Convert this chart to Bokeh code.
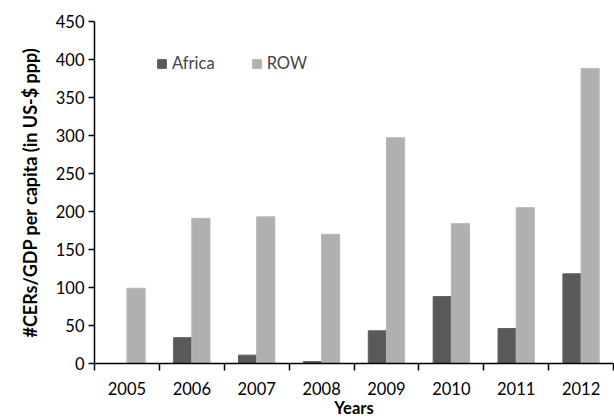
import numpy as np
from bokeh.plotting import figure
from bokeh.models import ColumnDataSource, FixedTicker, Range1d, Legend, LegendItem
from bokeh.embed import file_html
from bokeh.resources import INLINE

years = ["2005", "2006", "2007", "2008", "2009", "2010", "2011", "2012"]
africa = [0, 34, 11, 2.5, 43, 88, 46, 118]
row = [99, 191, 193, 170, 297, 184, 205, 388]
y_ticks = [0, 50, 100, 150, 200, 250, 300, 350, 400, 450]

idx = np.arange(len(years))
bar_w = 0.28
src = ColumnDataSource(dict(
    xa=idx + 0.5 - bar_w / 2,
    xr=idx + 0.5 + bar_w / 2,
    africa=africa,
    row=row,
))

p = figure(width=614, height=420, output_backend="svg", toolbar_location=None,
           x_range=Range1d(0, len(years)), y_range=Range1d(0, 450),
           min_border_left=94, min_border_top=21, min_border_right=1, min_border_bottom=57)
p.outline_line_color = None
p.xgrid.visible = False
p.ygrid.visible = False

ra = p.vbar(x="xa", top="africa", width=bar_w, source=src, fill_color="#595959", line_color="#5e5e5e")
rr = p.vbar(x="xr", top="row", width=bar_w, source=src, fill_color="#b0b0b0", line_color="#b6b6b6")

font = "Lato"
# x axis
p.xaxis.ticker = FixedTicker(ticks=list(idx + 0.5), minor_ticks=list(range(len(years) + 1)))
p.xaxis.major_label_overrides = {float(i + 0.5): y for i, y in zip(idx, years)}
p.xaxis.major_tick_out = 0
p.xaxis.major_tick_in = 0
p.xaxis.minor_tick_out = 7
p.xaxis.minor_tick_in = 0
p.xaxis.minor_tick_line_width = 1.5
p.xaxis.minor_tick_line_color = "black"
p.xaxis.axis_line_width = 1.5
p.xaxis.axis_line_color = "black"
p.xaxis.major_label_standoff = 11
p.xaxis.major_label_text_font = font
p.xaxis.major_label_text_font_size = "16.5px"
p.xaxis.major_label_text_color = "black"
p.xaxis.axis_label = "Years"
p.xaxis.axis_label_text_font = font
p.xaxis.axis_label_text_font_style = "bold"
p.xaxis.axis_label_text_font_size = "16.5px"
p.xaxis.axis_label_standoff = 0
p.xaxis.axis_label_text_color = "black"

# y axis
p.yaxis.ticker = FixedTicker(ticks=y_ticks, minor_ticks=[])
p.yaxis.major_tick_out = 6
p.yaxis.major_tick_in = 0
p.yaxis.major_tick_line_width = 1.5
p.yaxis.axis_line_width = 1.5
p.yaxis.axis_line_color = "black"
p.yaxis.major_label_standoff = 4
p.yaxis.major_label_text_font = font
p.yaxis.major_label_text_font_size = "16.5px"
p.yaxis.major_label_text_color = "black"
p.yaxis.axis_label = "#CERs/GDP per capita (in US-$ ppp)"
p.yaxis.axis_label_text_font = font
p.yaxis.axis_label_text_font_style = "bold"
p.yaxis.axis_label_text_font_size = "18px"
p.yaxis.axis_label_standoff = 12
p.yaxis.axis_label_text_color = "black"

legend = Legend(items=[LegendItem(label="Africa", renderers=[ra]),
                       LegendItem(label="ROW", renderers=[rr])],
                orientation="horizontal", location=(62, 290),
                glyph_width=11, glyph_height=11, label_standoff=5, spacing=36,
                label_text_font=font, label_text_font_size="16.5px",
                border_line_color=None, background_fill_alpha=0,
                padding=4, margin=0)
p.add_layout(legend, "center")

open("out.html", "w").write(file_html(p, INLINE))
